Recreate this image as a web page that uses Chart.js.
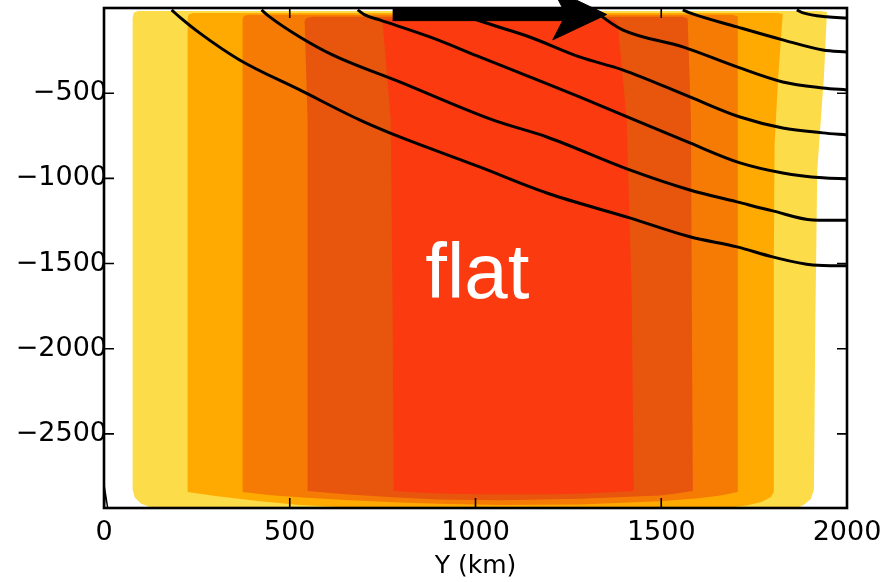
<!DOCTYPE html>
<html>
<head>
<meta charset="utf-8">
<script src="https://cdn.jsdelivr.net/npm/chart.js@4/dist/chart.umd.min.js"></script>
<style>
  html, body { margin: 0; padding: 0; background: #fff; }
  #wrap { width: 885px; height: 582px; }
</style>
</head>
<body>
<div id="wrap"><canvas id="myChart" width="885" height="582"></canvas></div>
<script>
// axis ticks
var xTicks = [0, 500, 1000, 1500, 2000];
var yTicks = [-2500, -2000, -1500, -1000, -500];
var xRange = [0, 2000];
var yRange = [-2935, 47];

// filled contour regions, outermost first (x km, depth)
var bandYellow = [[77,-60],[80,-28],[92,-18],[1930,-17],[1946,-24],[1938,-400],[1920,-950],[1915,-1800],[1911,-2828],[1903,-2880],[1885,-2915],[1865,-2935],[131,-2935],[100,-2910],[83,-2875],[77,-2828]];
var bandOrange = [[225,-60],[228,-38],[240,-29],[1815,-29],[1827,-36],[1815,-400],[1805,-800],[1803,-1500],[1803,-2841],[1795,-2870],[1770,-2900],[1730,-2920],[1685,-2932],[661,-2932],[527,-2918],[420,-2895],[300,-2865],[225,-2841]];
var bandDark = [[373,-65],[377,-46],[390,-40],[1692,-40],[1706,-50],[1706,-2841],[1660,-2862],[1600,-2878],[1496,-2895],[1281,-2915],[1065,-2917],[900,-2910],[796,-2902],[650,-2888],[546,-2875],[450,-2860],[373,-2841]];
var bandRust = [[540,-75],[545,-58],[560,-52],[1558,-52],[1571,-62],[1580,-657],[1582,-1650],[1585,-2835],[1540,-2850],[1496,-2862],[1281,-2880],[1065,-2890],[900,-2885],[777,-2872],[650,-2855],[548,-2835],[548,-657]];
var bandRed = [[750,-85],[755,-68],[770,-64],[1360,-64],[1375,-72],[1383,-100],[1407,-657],[1420,-1655],[1426,-2835],[1300,-2850],[1200,-2855],[1011,-2855],[880,-2848],[780,-2835],[777,-1800],[772,-657]];

// black contour lines
var line1 = [[182,-11],[203,-52],[257,-146],[365,-305],[527,-481],[688,-657],[769,-733],[1011,-933],[1192,-1086],[1415,-1232],[1577,-1343],[1704,-1402],[1800,-1461],[1908,-1508],[2000,-1513]];
var line2 = [[424,-11],[446,-52],[527,-170],[615,-275],[796,-434],[1046,-657],[1192,-757],[1415,-950],[1577,-1068],[1704,-1138],[1800,-1191],[1908,-1244],[2000,-1246]];
var line3 = [[683,-11],[702,-40],[742,-70],[877,-170],[1011,-287],[1146,-404],[1280,-522],[1415,-645],[1577,-792],[1712,-909],[1827,-968],[1935,-997],[2000,-1003]];
var line4 = [[955,-11],[975,-45],[1011,-75],[1146,-170],[1280,-287],[1396,-363],[1577,-522],[1712,-640],[1827,-704],[1935,-733],[2000,-745]];
var line5 = [[1321,-11],[1342,-52],[1396,-128],[1558,-228],[1704,-346],[1827,-434],[1935,-469],[2000,-481]];
var line6 = [[1558,-11],[1577,-29],[1704,-111],[1827,-187],[1935,-246],[2000,-258]];
var line7 = [[1865,-11],[1882,-29],[1946,-52],[2000,-58]];
var spike = [[1,-2935],[3,-2839],[10,-2935]];

// flow arrow outline
var arrow = [[777,-3],[1235,-3],[1208,112],[1353,-38],[1208,-187],[1235,-74],[777,-74]];

var label = 'flat';
var labelAt = [1005, -1700];

function pts(a) {
    return a.map(function(p) { return {x: p[0], y: p[1]}; });
}

function band(d, color, order) {
    return { data: pts(d), showLine: true, fill: 'shape', backgroundColor: color,
             borderWidth: 0, pointRadius: 0, tension: 0, order: order };
}

function contour(d) {
    return { data: pts(d), showLine: true, fill: false, borderColor: '#000',
             borderWidth: 3, pointRadius: 0, cubicInterpolationMode: 'monotone', order: 3 };
}

var frame = {
    id: 'frame',
    afterDatasetsDraw: function(chart) {
        var ctx = chart.ctx;
        var x = chart.scales.x, y = chart.scales.y;
        var left = x.getPixelForValue(xRange[0]), right = x.getPixelForValue(xRange[1]);
        var top = y.getPixelForValue(0), bottom = y.getPixelForValue(yRange[0]);
        ctx.save();
        ctx.fillStyle = '#fff';
        ctx.font = '300 78px "Liberation Sans", Arial, sans-serif';
        ctx.textAlign = 'center';
        ctx.textBaseline = 'alphabetic';
        ctx.fillText(label, x.getPixelForValue(labelAt[0]), y.getPixelForValue(labelAt[1]));

        ctx.strokeStyle = '#000';
        ctx.lineWidth = 1.6;
        ctx.beginPath();
        xTicks.forEach(function(v) {
            var px = x.getPixelForValue(v);
            ctx.moveTo(px, bottom); ctx.lineTo(px, bottom - 10);
            ctx.moveTo(px, top); ctx.lineTo(px, top + 10);
        });
        yTicks.forEach(function(v) {
            var py = y.getPixelForValue(v);
            ctx.moveTo(left, py); ctx.lineTo(left + 10, py);
            ctx.moveTo(right, py); ctx.lineTo(right - 10, py);
        });
        ctx.stroke();
        ctx.lineWidth = 2.6;
        ctx.strokeRect(left, top, right - left, bottom - top);
        ctx.restore();
    }
};

var tickFont = { family: '"DejaVu Sans", sans-serif', size: 27 };
var minus = function(v) { return String(v).replace('-', '\u2212'); };

var ctx1 = document.getElementById('myChart').getContext('2d');
var myChart = new Chart(ctx1, {
    type: 'scatter',
    data: {
        datasets: [
            band(bandYellow, '#FDDC4A', 10),
            band(bandOrange, '#FFAA00', 9),
            band(bandDark, '#F67B05', 8),
            band(bandRust, '#E8550D', 7),
            band(bandRed, '#FB3A10', 6),
            contour(line1), contour(line2), contour(line3), contour(line4),
            contour(line5), contour(line6), contour(line7),
            { data: pts(spike), showLine: true, borderColor: '#000', borderWidth: 1.5,
              pointRadius: 0, tension: 0, order: 3 },
            { data: pts(arrow), showLine: true, fill: 'shape', backgroundColor: '#000',
              borderColor: '#000', borderWidth: 1, pointRadius: 0, tension: 0,
              clip: false, order: 1 }
        ]
    },
    options: {
        responsive: false,
        animation: false,
        layout: { padding: { left: 0, right: 38, top: 0, bottom: 0 } },
        plugins: {
            legend: { display: false },
            tooltip: { enabled: false },
            filler: { drawTime: 'beforeDatasetDraw' }
        },
        scales: {
            x: {
                type: 'linear', min: xRange[0], max: xRange[1],
                afterBuildTicks: function(s) { s.ticks = xTicks.map(function(v) { return {value: v}; }); },
                afterFit: function(s) { s.height = 74; s.paddingLeft = 0; s.paddingRight = 0; },
                grid: { display: false, drawTicks: false, tickLength: 0 },
                border: { display: false },
                ticks: { font: tickFont, color: '#000', padding: 9, maxRotation: 0, callback: minus },
                title: { display: true, text: 'Y (km)', font: { family: '"DejaVu Sans", sans-serif', size: 25 },
                         color: '#000', padding: { top: 2, bottom: 1 } }
            },
            y: {
                type: 'linear', min: yRange[0], max: yRange[1],
                afterBuildTicks: function(s) { s.ticks = yTicks.map(function(v) { return {value: v}; }); },
                afterFit: function(s) { s.width = 104; s.paddingTop = 0; s.paddingBottom = 0; },
                grid: { display: false, drawTicks: false, tickLength: 0 },
                border: { display: false },
                ticks: { font: tickFont, color: '#000', padding: -3, callback: minus }
            }
        }
    },
    plugins: [frame]
});
</script>
</body>
</html>
